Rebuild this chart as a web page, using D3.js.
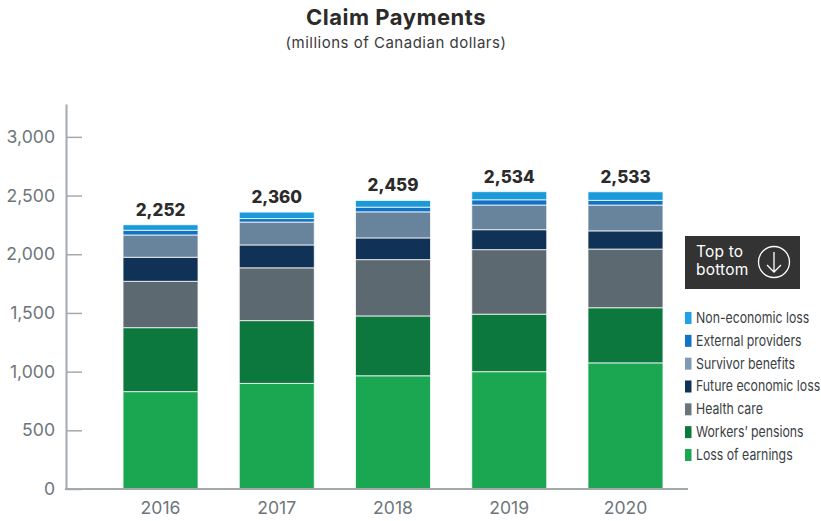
<!DOCTYPE html>
<html><head><meta charset="utf-8">
<script src="https://cdn.jsdelivr.net/npm/d3@7"></script>
<style>html,body{margin:0;padding:0;background:#fff}svg{display:block}text{font-family:Inter,sans-serif}</style>
</head><body><svg id="c" width="821" height="521"></svg>
<script>
const years = ["2016","2017","2018","2019","2020"];
const totals = [2252,2360,2459,2534,2533];
const seriesNames = ["Loss of earnings","Workers’ pensions","Health care","Future economic loss","Survivor benefits","External providers","Non-economic loss"];
const seriesColors = ["#1ba651","#0c783e","#5d6970","#103256","#68849c","#1272c4","#1a9ad9"];
const lossOfEarnings = [830,900,965,1000,1075];
const workersPensions = [545,535,510,490,470];
const healthCare = [395,450,480,550,500];
const futureEconomicLoss = [205,195,185,170,155];
const survivorBenefits = [190,195,222,210,220];
const externalProviders = [40,30,40,45,40];
const nonEconomicLoss = [47,55,57,69,73];
const allSeries = [lossOfEarnings,workersPensions,healthCare,futureEconomicLoss,survivorBenefits,externalProviders,nonEconomicLoss];
const yTicks = [0,500,1000,1500,2000,2500,3000];

const svg = d3.select("#c");
const rows = years.map((yr,i)=>{const r={year:yr};seriesNames.forEach((n,j)=>r[n]=allSeries[j][i]);return r;});
const stack = d3.stack().keys(seriesNames)(rows);
const x = d3.scaleBand().domain(years).range([102.4,683.6]).paddingInner(0.355).paddingOuter(0.1775);
const y = d3.scaleLinear().domain([0,3000]).range([489,137]);
const axisColor = "#a3aaae", tickText = "#6d767b";

svg.append("text").attr("x",396).attr("y",25).attr("text-anchor","middle")
  .attr("font-size",22).attr("font-weight",700).attr("letter-spacing",0.5).attr("fill","#2b2b2b").text("Claim Payments");
svg.append("text").attr("x",396).attr("y",48).attr("text-anchor","middle")
  .attr("font-size",15).attr("letter-spacing",0.5).attr("fill","#3a3a3a").text("(millions of Canadian dollars)");

svg.append("g").selectAll("g").data(stack).join("g").attr("fill",(d,i)=>seriesColors[i])
  .selectAll("rect").data(d=>d).join("rect")
  .attr("x",d=>x(d.data.year)).attr("width",x.bandwidth())
  .attr("y",d=>y(d[1])).attr("height",d=>y(d[0])-y(d[1]))
  .attr("stroke","#fff").attr("stroke-opacity",0.75).attr("stroke-width",1);

svg.append("g").selectAll("text").data(years).join("text")
  .attr("x",d=>x(d)+x.bandwidth()/2).attr("y",(d,i)=>y(totals[i])-9)
  .attr("text-anchor","middle").attr("font-size",17).attr("font-weight",800).attr("fill","#2b2b2b")
  .text((d,i)=>d3.format(",")(totals[i]));

const yAxis = svg.append("g").attr("transform","translate(66,0)")
  .call(d3.axisLeft(y.copy().domain([0,3280]).range([489,104])).tickValues(yTicks).tickFormat(d3.format(",")).tickSizeInner(-16).tickSizeOuter(0).tickPadding(11));
yAxis.selectAll("path,line").attr("stroke",axisColor).attr("stroke-width",2);
yAxis.selectAll(".tick line").attr("stroke-width",1.5);
yAxis.selectAll("text").attr("font-size",17.6).attr("fill",tickText).style("font-family","Inter,sans-serif");

const xAxis = svg.append("g").attr("transform","translate(0,489)")
  .call(d3.axisBottom(x).tickSize(0).tickPadding(13));
xAxis.select("path").remove();
xAxis.append("line").attr("x1",65).attr("x2",688).attr("stroke",axisColor).attr("stroke-width",2);
xAxis.selectAll("text").attr("font-size",17.6).attr("fill",tickText).style("font-family","Inter,sans-serif");

const btn = svg.append("g");
btn.append("rect").attr("x",685).attr("y",236).attr("width",115).attr("height",53).attr("fill","#333");
btn.selectAll("text").data(["Top to","bottom"]).join("text")
  .attr("x",696).attr("y",(d,i)=>257+i*18).attr("font-size",15.5).attr("letter-spacing",0.2).attr("fill","#fff").text(d=>d);
btn.append("circle").attr("cx",774).attr("cy",262).attr("r",15.5).attr("fill","none").attr("stroke","#fff").attr("stroke-width",1.3);
btn.append("path").attr("d","M774 252V272M767 265L774 272L781 265").attr("fill","none").attr("stroke","#fff").attr("stroke-width",1.3);

const legend = svg.append("g").selectAll("g").data(seriesNames.slice().reverse()).join("g")
  .attr("transform",(d,i)=>`translate(685,${318+i*22.83})`);
legend.append("rect").attr("x",0).attr("y",-6).attr("width",6.5).attr("height",12)
  .attr("fill",d=>d==="Non-economic loss"?"#1fa3e6":d==="Survivor benefits"?"#7f9ab3":d==="Health care"?"#6a767d":seriesColors[seriesNames.indexOf(d)]);
legend.append("text").attr("transform","translate(11,5) scale(0.82,1)")
  .attr("font-size",15).attr("fill","#3a4044").text(d=>d);
</script></body></html>
